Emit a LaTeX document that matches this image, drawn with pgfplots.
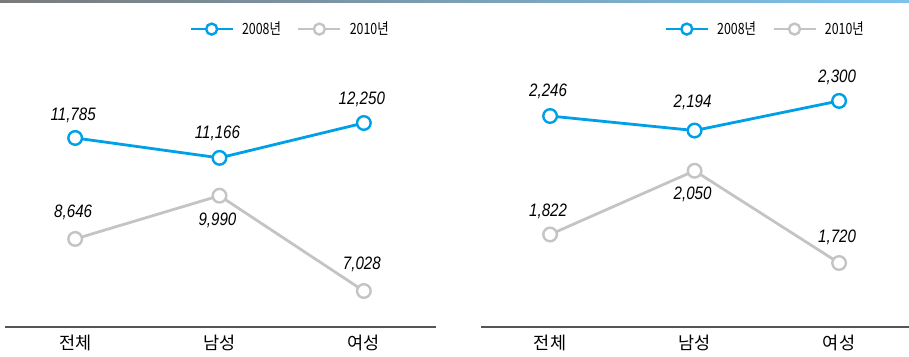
\documentclass[border=0pt]{standalone}
\usepackage{fontspec}
\setmainfont{Liberation Sans}
\newfontfamily\kr{Noto Sans CJK KR}
\usepackage{pgfplots}
\pgfplotsset{compat=1.18}
\definecolor{cblue}{HTML}{00A0E9}
\definecolor{cgray}{HTML}{C4C4C4}
\definecolor{axgray}{HTML}{555555}
\definecolor{topgray}{HTML}{7A7A7A}
\definecolor{topblue}{HTML}{7CC4EE}
\newcommand{\legtxt}[1]{\scalebox{0.8}[1]{#1}}
\pgfplotsset{
  mypanel/.style={
    scale only axis, height=287pt,
    axis x line*=bottom, axis y line=none,
    x axis line style={-, draw=axgray, line width=1.2pt},
    xtick={0,1,2}, xticklabels={전체,남성,여성},
    major tick length=0pt,
    xticklabel style={font=\kr\fontsize{17.5}{17.5}\selectfont, yshift=-4.5pt, text=black},
    clip=false,
    legend columns=2,
    legend style={draw=none, fill=none, inner sep=0pt, anchor=west,
      font=\kr\fontsize{15.5}{15.5}\selectfont,
      /tikz/every odd column/.append style={column sep=6pt},
      /tikz/every even column/.append style={column sep=14pt}},
    legend image code/.code={\draw[mark repeat=2,mark phase=2,##1,mark size=5.5pt] plot coordinates {(0pt,0pt) (21pt,0pt) (42pt,0pt)};},
  },
  ser/.style={line width=2.8pt, color=#1, mark=*, mark size=6.8pt,
    mark options={fill=white, draw=#1, line width=2.4pt},
    point meta=explicit symbolic, nodes near coords={\scalebox{0.84}[1]{\pgfplotspointmeta}},
    visualization depends on={\thisrow{dy} \as \dy},
    every node near coord/.append style={anchor=center, yshift=\dy pt, xshift=-2pt,
      text=black, font=\itshape\fontsize{18}{18}\selectfont}},
}
\begin{document}
\begin{tikzpicture}
\useasboundingbox (0,0) rectangle (909pt,356pt);
\shade[left color=topgray, right color=topblue] (0pt,353.5pt) rectangle (909pt,356pt);
\begin{axis}[mypanel, at={(5pt,29pt)}, anchor=south west, width=431pt,
  xmin=-0.486, xmax=2.5, ymin=5909, ymax=14830,
  legend style={at={(0.427,1.038)}}]
\addplot[ser=cblue] table[meta=lab] {
x y lab dy
0 11785 11,785 23
1 11166 11,166 25
2 12250 12,250 23.5
};
\addlegendentry{\legtxt{2008년}}
\addplot[ser=cgray] table[meta=lab] {
x y lab dy
0 8646 8,646 27
1 9990 9,990 -25
2 7028 7,028 26.5
};
\addlegendentry{\legtxt{2010년}}
\end{axis}
\begin{axis}[mypanel, at={(481pt,29pt)}, anchor=south west, width=428pt,
  xmin=-0.478, xmax=2.484, ymin=1491, ymax=2518,
  legend style={at={(0.428,1.038)}}]
\addplot[ser=cblue] table[meta=lab] {
x y lab dy
0 2246 2,246 25
1 2194 2,194 28
2 2300 2,300 24
};
\addlegendentry{\legtxt{2008년}}
\addplot[ser=cgray] table[meta=lab] {
x y lab dy
0 1822 1,822 23
1 2050 2,050 -24
2 1720 1,720 26
};
\addlegendentry{\legtxt{2010년}}
\end{axis}
\end{tikzpicture}
\end{document}
